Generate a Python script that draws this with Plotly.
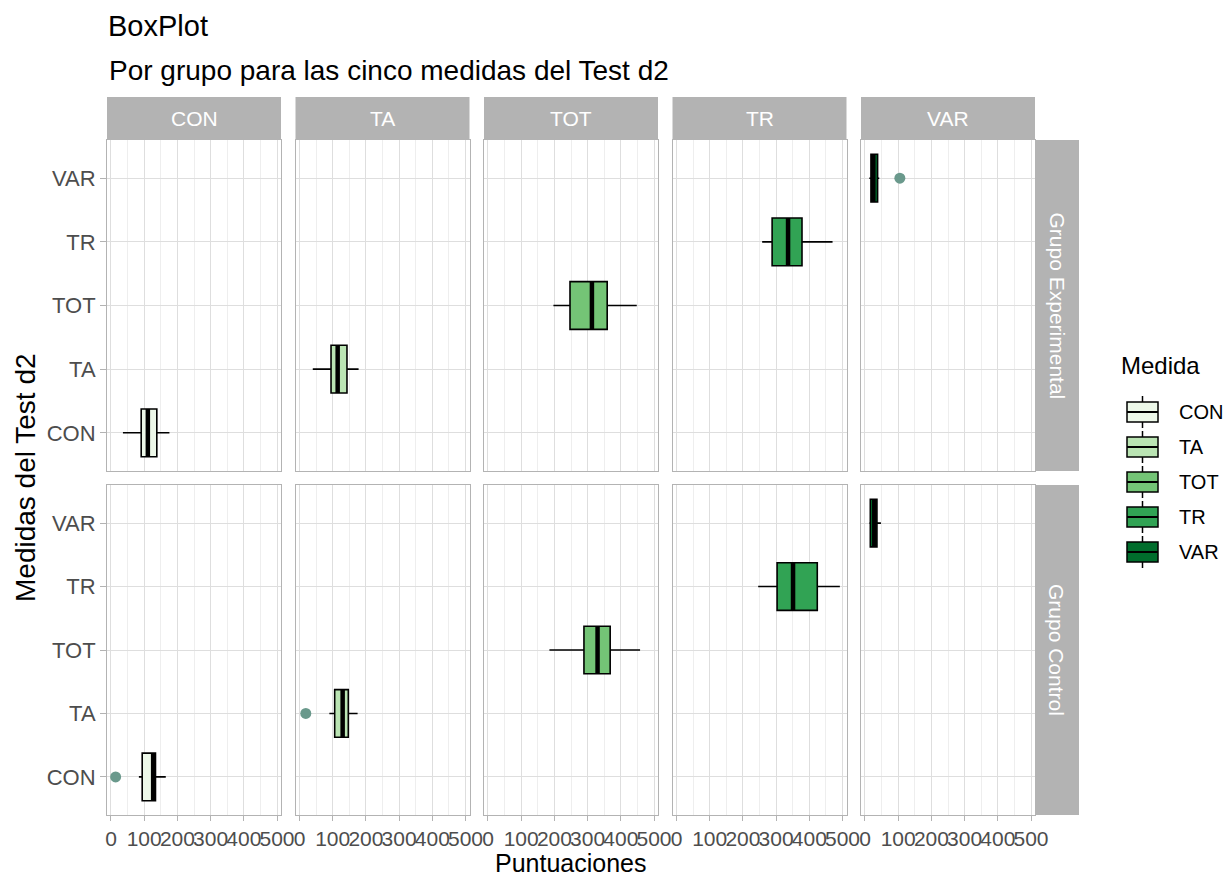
import plotly.graph_objects as go

W, H = 1226, 879

medidas = ["CON", "TA", "TOT", "TR", "VAR"]
grupos = ["Grupo Experimental", "Grupo Control"]
colores = ["#EDF8E9", "#BAE4B3", "#74C476", "#31A354", "#006D2C"]

# Five-number summaries per group, in the order of `medidas`
exp_low = [36, 40, 197, 258, 13]
exp_q1 = [91, 95, 247, 288, 18]
exp_med = [111, 115, 313, 336, 25]
exp_q3 = [138, 143, 359, 378, 38]
exp_high = [176, 178, 448, 470, 43]

ctl_low = [84, 90, 185, 246, 13]
ctl_q1 = [94, 106, 289, 303, 16]
ctl_med = [127, 130, 330, 351, 28]
ctl_q3 = [134, 147, 368, 424, 36]
ctl_high = [165, 175, 458, 492, 48]

# Outlying scores
out_grupo = ["Grupo Experimental", "Grupo Control", "Grupo Control"]
out_medida = ["VAR", "CON", "TA"]
out_valor = [105, 14, 19]

x_ticks = [0, 100, 200, 300, 400, 500]

stats = {
    "Grupo Experimental": (exp_low, exp_q1, exp_med, exp_q3, exp_high),
    "Grupo Control": (ctl_low, ctl_q1, ctl_med, ctl_q3, ctl_high),
}

# panel geometry in pixels
col_x = [(107, 281), (295.5, 469.5), (484, 658), (672.5, 846.5), (861, 1035)]
row_y = [(140, 471), (485, 815)]
strip_top = (97, 140)
strip_right = (1035, 1079)

FONT = "Liberation Sans, Arial, sans-serif"
GRID = "#DEDEDE"
BORDER = "#B3B3B3"
TICKTXT = "#4D4D4D"
TICK_SIZE = 21
STRIP_SIZE = 21


def px(x):
    return x / W


def py(y):
    return 1 - y / H


fig = go.Figure()
layout = {}
shapes = []
annotations = []
BW = 0.75

for r, grupo in enumerate(grupos):
    low, q1, med, q3, high = stats[grupo]
    for c, facet in enumerate(medidas):
        idx = r * 5 + c + 1
        xa = "x" if idx == 1 else f"x{idx}"
        ya = "y" if idx == 1 else f"y{idx}"
        layout["xaxis" if idx == 1 else f"xaxis{idx}"] = dict(
            domain=[px(col_x[c][0]), px(col_x[c][1])],
            anchor=ya,
            range=[-12, 512],
            tickvals=x_ticks,
            ticktext=[str(v) for v in x_ticks],
            tickangle=0,
            automargin=False,
            showticklabels=(r == 1),
            ticks="outside" if r == 1 else "",
            ticklen=5,
            ticklabelstandoff=0,
            tickcolor=BORDER,
            tickfont=dict(family=FONT, size=TICK_SIZE, color=TICKTXT),
            showgrid=True,
            gridcolor=GRID,
            gridwidth=1,
            minor=dict(dtick=50, tick0=0, showgrid=True, gridcolor="#EEEEEE", gridwidth=1),
            zeroline=False,
            showline=True,
            mirror=True,
            linecolor=BORDER,
            linewidth=1,
        )
        layout["yaxis" if idx == 1 else f"yaxis{idx}"] = dict(
            domain=[py(row_y[r][1]), py(row_y[r][0])],
            anchor=xa,
            range=[-0.6, 4.6],
            tickvals=list(range(len(medidas))),
            ticktext=medidas,
            automargin=False,
            showticklabels=(c == 0),
            ticks="outside" if c == 0 else "",
            ticklen=6,
            ticklabelstandoff=0,
            tickcolor=BORDER,
            tickfont=dict(family=FONT, size=22, color=TICKTXT),
            showgrid=True,
            gridcolor=GRID,
            gridwidth=1,
            zeroline=False,
            showline=True,
            mirror=True,
            linecolor=BORDER,
            linewidth=1,
        )

        # one box per panel: the measure of this facet
        i = c
        fig.add_trace(go.Box(
            orientation="h",
            y=[i],
            q1=[q1[i]], median=[med[i]], q3=[q3[i]],
            lowerfence=[low[i]], upperfence=[high[i]],
            width=BW,
            whiskerwidth=0,
            fillcolor=colores[i],
            line=dict(color="black", width=1.6),
            boxpoints=False,
            hoverinfo="skip",
            showlegend=False,
            xaxis=xa, yaxis=ya,
        ))
        # thick median bar
        fig.add_trace(go.Scatter(
            x=[med[i], med[i]], y=[i - BW / 2, i + BW / 2],
            mode="lines", line=dict(color="black", width=4.5),
            hoverinfo="skip", showlegend=False,
            xaxis=xa, yaxis=ya,
        ))
        # outliers
        ox = [v for g, m, v in zip(out_grupo, out_medida, out_valor) if g == grupo and m == facet]
        if ox:
            fig.add_trace(go.Scatter(
                x=ox, y=[i] * len(ox), mode="markers",
                marker=dict(color="#6A998C", size=11, line=dict(width=0)),
                hoverinfo="skip", showlegend=False,
                xaxis=xa, yaxis=ya,
            ))

# column strips
for c, facet in enumerate(medidas):
    shapes.append(dict(type="rect", xref="paper", yref="paper",
                       x0=px(col_x[c][0]), x1=px(col_x[c][1]),
                       y0=py(strip_top[1]), y1=py(strip_top[0]),
                       fillcolor=BORDER, line=dict(width=0)))
    annotations.append(dict(xref="paper", yref="paper",
                            x=px((col_x[c][0] + col_x[c][1]) / 2),
                            y=py((strip_top[0] + strip_top[1]) / 2),
                            xanchor="center", yanchor="middle",
                            text=facet, showarrow=False,
                            font=dict(family=FONT, size=STRIP_SIZE, color="white")))
# row strips
for r, grupo in enumerate(grupos):
    shapes.append(dict(type="rect", xref="paper", yref="paper",
                       x0=px(strip_right[0]), x1=px(strip_right[1]),
                       y0=py(row_y[r][1]), y1=py(row_y[r][0]),
                       fillcolor=BORDER, line=dict(width=0)))
    annotations.append(dict(xref="paper", yref="paper",
                            x=px((strip_right[0] + strip_right[1]) / 2),
                            y=py((row_y[r][0] + row_y[r][1]) / 2),
                            xanchor="center", yanchor="middle",
                            text=grupo, showarrow=False, textangle=90,
                            font=dict(family=FONT, size=STRIP_SIZE, color="white")))

# legend
annotations.append(dict(xref="paper", yref="paper", x=px(1119), y=py(365),
                        xanchor="left", yanchor="middle", text="Medida",
                        showarrow=False, font=dict(family=FONT, size=24, color="black")))
for i, m in enumerate(medidas):
    cy = 412 + 35 * i
    shapes.append(dict(type="rect", xref="paper", yref="paper",
                       x0=px(1127), x1=px(1158), y0=py(cy + 10), y1=py(cy - 10),
                       fillcolor=colores[i], line=dict(color="black", width=1.5)))
    shapes.append(dict(type="line", xref="paper", yref="paper",
                       x0=px(1127), x1=px(1158), y0=py(cy), y1=py(cy),
                       line=dict(color="black", width=2)))
    shapes.append(dict(type="line", xref="paper", yref="paper",
                       x0=px(1142.5), x1=px(1142.5), y0=py(cy - 10), y1=py(cy - 16),
                       line=dict(color="black", width=1.5)))
    shapes.append(dict(type="line", xref="paper", yref="paper",
                       x0=px(1142.5), x1=px(1142.5), y0=py(cy + 10), y1=py(cy + 16),
                       line=dict(color="black", width=1.5)))
    annotations.append(dict(xref="paper", yref="paper", x=px(1177), y=py(cy),
                            xanchor="left", yanchor="middle", text=m, showarrow=False,
                            font=dict(family=FONT, size=20, color="black")))

# titles
annotations.append(dict(xref="paper", yref="paper", x=px(106), y=py(26),
                        xanchor="left", yanchor="middle", text="BoxPlot", showarrow=False,
                        font=dict(family=FONT, size=29, color="black")))
annotations.append(dict(xref="paper", yref="paper", x=px(107), y=py(70),
                        xanchor="left", yanchor="middle",
                        text="Por grupo para las cinco medidas del Test d2", showarrow=False,
                        font=dict(family=FONT, size=28, color="black")))
annotations.append(dict(xref="paper", yref="paper", x=px(571), y=py(879),
                        xanchor="center", yanchor="bottom", text="Puntuaciones", showarrow=False,
                        font=dict(family=FONT, size=25, color="black")))
annotations.append(dict(xref="paper", yref="paper", x=px(25), y=py(478),
                        xanchor="center", yanchor="middle", text="Medidas del Test d2",
                        showarrow=False, textangle=-90,
                        font=dict(family=FONT, size=28, color="black")))

fig.update_layout(
    **layout,
    width=W, height=H,
    margin=dict(l=0, r=0, t=0, b=0),
    paper_bgcolor="white",
    plot_bgcolor="white",
    boxmode="overlay",
    showlegend=False,
    shapes=shapes,
    annotations=annotations,
)

fig.write_html("out.html")
